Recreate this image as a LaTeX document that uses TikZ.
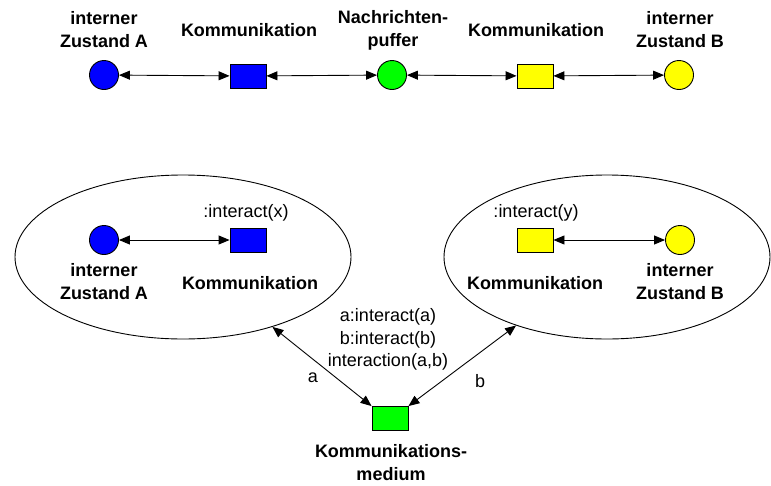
\documentclass[tikz,border=0pt]{standalone}
\usepackage{fontspec}
\setmainfont{Liberation Sans}
\usetikzlibrary{arrows.meta,shapes.geometric}
\definecolor{pblue}{RGB}{0,0,255}
\definecolor{pgreen}{RGB}{0,255,0}
\definecolor{pyellow}{RGB}{255,255,0}
\begin{document}
\begin{tikzpicture}[x=1pt,y=1pt,
  place/.style={circle,draw,line width=0.9pt,minimum size=29pt,inner sep=0pt},
  trans/.style={rectangle,draw,line width=0.9pt,minimum width=36pt,minimum height=24pt,inner sep=0pt},
  lbl/.style={font=\fontsize{18}{23}\selectfont\bfseries,align=center,inner sep=0pt},
  ann/.style={font=\fontsize{18}{22.5}\selectfont,align=center,inner sep=0pt},
  link/.style={line width=0.9pt,{Triangle[length=11pt,width=9pt]}-{Triangle[length=11pt,width=9pt]}},
  region/.style={ellipse,draw,line width=0.9pt,inner sep=0pt}]
\useasboundingbox (0,0) rectangle (771,-485);

% upper net: one shared message buffer
\node[place,fill=pblue]   (pA)  at (104,-75) {};
\node[trans,fill=pblue]   (kA)  at (248,-76) {};
\node[place,fill=pgreen]  (buf) at (392,-75) {};
\node[trans,fill=pyellow] (kB)  at (535,-76) {};
\node[place,fill=pyellow] (pB)  at (679,-75) {};

\node[lbl] (tA)   at (104,-30) {interner\\Zustand A};
\node[lbl] (tkA)  at (249,-30) {Kommunikation};
\node[lbl] (tbuf) at (393,-30) {Nachrichten-\\puffer};
\node[lbl] (tkB)  at (536,-30) {Kommunikation};
\node[lbl] (tB)   at (680,-30) {interner\\Zustand B};

\draw[link] (pA) -- (kA);
\draw[link] (kA) -- (buf);
\draw[link] (buf) -- (kB);
\draw[link] (kB) -- (pB);

% lower net: two components joined by a medium
\node[region,minimum width=336pt,minimum height=164pt] (envA) at (183,-257) {};
\node[region,minimum width=326pt,minimum height=164pt] (envB) at (607,-257) {};

\node[place,fill=pblue]   (qA) at (104,-240) {};
\node[trans,fill=pblue]   (jA) at (248,-240) {};
\node[trans,fill=pyellow] (jB) at (535,-240) {};
\node[place,fill=pyellow] (qB) at (680,-240) {};

\node[ann] (ix) at (246,-213) {:interact(x)};
\node[ann] (iy) at (536,-213) {:interact(y)};
\node[lbl] (uA)  at (104,-282) {interner\\Zustand A};
\node[lbl] (ujA) at (250,-283) {Kommunikation};
\node[lbl] (ujB) at (535,-283) {Kommunikation};
\node[lbl] (uB)  at (680,-282) {interner\\Zustand B};

\draw[link] (qA) -- (jA);
\draw[link] (jB) -- (qB);

\node[trans,fill=pgreen] (med) at (390,-418.5) {};
\node[lbl] (tmed) at (391,-463) {Kommunikations-\\medium};
\node[ann] (rules) at (388,-339.5) {a:interact(a)\\b:interact(b)\\interaction(a,b)};

\draw[link] (envA.-38.8) -- (med.north west);
\draw[link] (envB.217.4) -- (med.north east);

\node[ann] (la) at (313,-378) {a};
\node[ann] (lb) at (480,-381) {b};
\end{tikzpicture}
\end{document}
